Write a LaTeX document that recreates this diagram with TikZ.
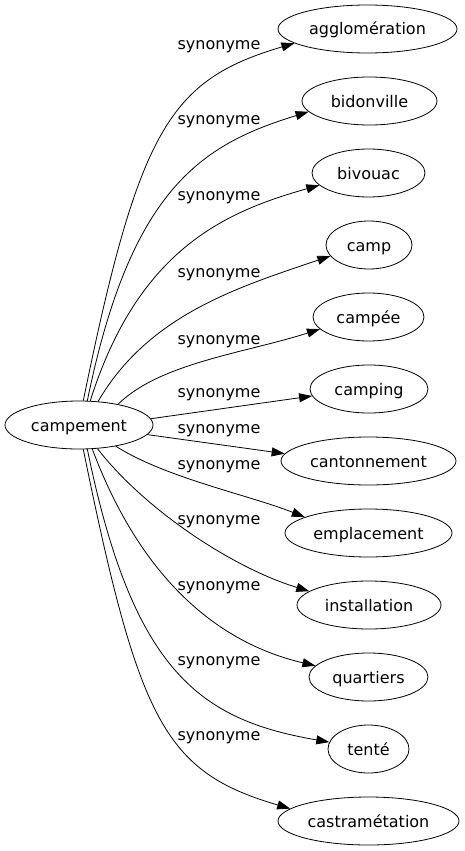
\documentclass[tikz,border=0pt]{standalone}
\usepackage{fontspec}
\setmainfont{DejaVu Sans}
\usetikzlibrary{arrows.meta,shapes.geometric}
\begin{document}
\begin{tikzpicture}[x=1pt,y=-1pt,
  word/.style={draw, ellipse, line width=0.8pt, inner sep=0pt, minimum height=48pt,
    text height=16pt, text depth=4pt, font=\fontsize{16}{19}\selectfont},
  lbl/.style={inner sep=0pt, font=\fontsize{16}{19}\selectfont},
  edge/.style={line width=0.8pt, -{Triangle[length=13pt,width=9pt]}}]
\path[use as bounding box, fill=white] (0,0) rectangle (465,851);

\node[word, minimum width=148pt] (c) at (79,425) {campement};
\node[word, minimum width=179pt] (t1) at (367.5,29) {agglomération};
\node[word, minimum width=135pt] (t2) at (369.5,101) {bidonville};
\node[word, minimum width=113pt] (t3) at (368.5,173) {bivouac};
\node[word, minimum width=86pt] (t4) at (369,245) {camp};
\node[word, minimum width=111pt] (t5) at (368.5,317) {campée};
\node[word, minimum width=118pt] (t6) at (369,389) {camping};
\node[word, minimum width=175pt] (t7) at (368.5,461) {cantonnement};
\node[word, minimum width=167pt] (t8) at (368.5,533) {emplacement};
\node[word, minimum width=144pt] (t9) at (369,605) {installation};
\node[word, minimum width=119pt] (t10) at (368.5,677) {quartiers};
\node[word, minimum width=81pt] (t11) at (368.5,749) {tenté};
\node[word, minimum width=181pt] (t12) at (368.5,821) {castramétation};

\node[lbl] (l1) at (219,47) {synonyme};
\node[lbl] (l2) at (219,122) {synonyme};
\node[lbl] (l3) at (219,198) {synonyme};
\node[lbl] (l4) at (219,275) {synonyme};
\node[lbl] (l5) at (219,342) {synonyme};
\node[lbl] (l6) at (219,395) {synonyme};
\node[lbl] (l7) at (219,431) {synonyme};
\node[lbl] (l8) at (219,467) {synonyme};
\node[lbl] (l9) at (219,522) {synonyme};
\node[lbl] (l10) at (219,588) {synonyme};
\node[lbl] (l11) at (219,663) {synonyme};
\node[lbl] (l12) at (219,738) {synonyme};

\draw[edge] (c.80) .. controls (139,128) and (170,80) .. (t1.191);
\draw[edge] (c.71.5) .. controls (131,186) and (204,144) .. (t2.190);
\draw[edge] (c.65) .. controls (138,250) and (224,212) .. (t3.194);
\draw[edge] (c.51) .. controls (148,316) and (235,288) .. (t4.196);
\draw[edge] (c.28) .. controls (160,363) and (245,353) .. (t5.194);
\draw[edge] (c.5) -- (t6.187);
\draw[edge] (c.-8) -- (t7.175);
\draw[edge] (c.-30) .. controls (166,478) and (249,495) .. (t8.166);
\draw[edge] (c.-52) .. controls (145,510) and (233,568) .. (t9.167);
\draw[edge] (c.-61) .. controls (141,579) and (218,643) .. (t10.168);
\draw[edge] (c.-71.5) .. controls (133,673) and (201,720) .. (t11.170);
\draw[edge] (c.-80.5) .. controls (139,723) and (165,772) .. (t12.171);
\end{tikzpicture}
\end{document}
